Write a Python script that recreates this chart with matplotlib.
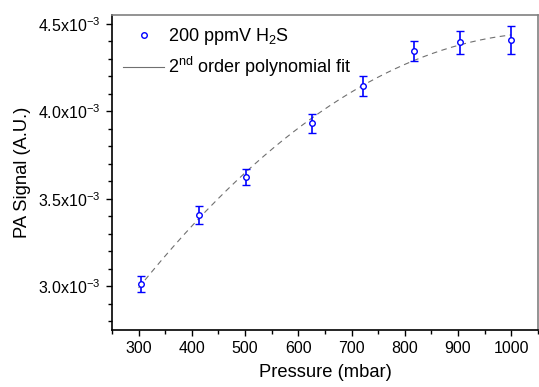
import numpy as np
import matplotlib
matplotlib.use("Agg")
import matplotlib.pyplot as plt
from matplotlib.ticker import MultipleLocator, FuncFormatter
from matplotlib.lines import Line2D

plt.rcParams['font.family'] = ['Liberation Sans', 'DejaVu Sans']
plt.rcParams['mathtext.fontset'] = 'custom'
plt.rcParams['mathtext.rm'] = 'Liberation Sans'
plt.rcParams['mathtext.it'] = 'Liberation Sans:italic'

pressure = [304, 414, 502, 625, 722, 818, 904, 1000]
signal = [3.014e-3, 3.408e-3, 3.623e-3, 3.931e-3, 4.145e-3, 4.345e-3, 4.394e-3, 4.406e-3]
err = [0.045e-3, 0.053e-3, 0.047e-3, 0.054e-3, 0.056e-3, 0.055e-3, 0.066e-3, 0.081e-3]
x_ticks = [300, 400, 500, 600, 700, 800, 900, 1000]
y_ticks = [3.0e-3, 3.5e-3, 4.0e-3, 4.5e-3]

fig = plt.figure(figsize=(5.39, 3.87), dpi=100)
ax = fig.add_axes([0.2078, 0.1473, 0.7902, 0.8139])

coef = np.polyfit(pressure, signal, 2)
xf = np.linspace(300, 1000, 200)
ax.plot(xf, np.polyval(coef, xf), ls=(0, (5, 4)), color='#707070', lw=0.8)
ax.errorbar(pressure, signal, yerr=err, fmt='o', ms=4, mfc='white', mec='#0000ff',
            mew=1.0, ecolor='#0000ff', elinewidth=1.2, capsize=2.6, capthick=1.2)

ax.set_xlim(250, 1050)
ax.set_ylim(2.75e-3, 4.55e-3)
ax.set_xticks(x_ticks)
ax.xaxis.set_minor_locator(MultipleLocator(50))
ax.set_yticks(y_ticks)
ax.yaxis.set_minor_locator(MultipleLocator(0.1e-3))
ax.yaxis.set_major_formatter(FuncFormatter(lambda v, p: '%.1fx10$^{\\mathregular{-3}}$' % (v * 1e3)))

ax.tick_params(which='both', direction='out', labelsize=11.5, color='black')
ax.tick_params(which='major', length=4.5, width=1)
ax.tick_params(which='minor', length=3, width=1)
for s in ['top', 'right']:
    ax.spines[s].set_color('#808080')
for s in ['left', 'bottom']:
    ax.spines[s].set_color('black')
for s in ax.spines.values():
    s.set_linewidth(1.2)

ax.set_xlabel('Pressure (mbar)', fontsize=13.2, labelpad=6)
ax.set_ylabel('PA Signal (A.U.)', fontsize=13.2, labelpad=5)

handles = [Line2D([], [], ls='none', marker='o', ms=4, mfc='white', mec='#0000ff', mew=1.0),
           Line2D([], [], ls='-', color='#707070', lw=0.8)]
labels = ['200 ppmV H$_{\\mathregular{2}}$S', '2$^{\\mathregular{nd}}$ order polynomial fit']
ax.legend(handles, labels, loc='upper left', frameon=False, fontsize=13,
          handlelength=2.3, handletextpad=0.2, numpoints=1,
          borderaxespad=0.3, borderpad=0.3, labelspacing=0.45)

fig.savefig('out.png', dpi=100)
